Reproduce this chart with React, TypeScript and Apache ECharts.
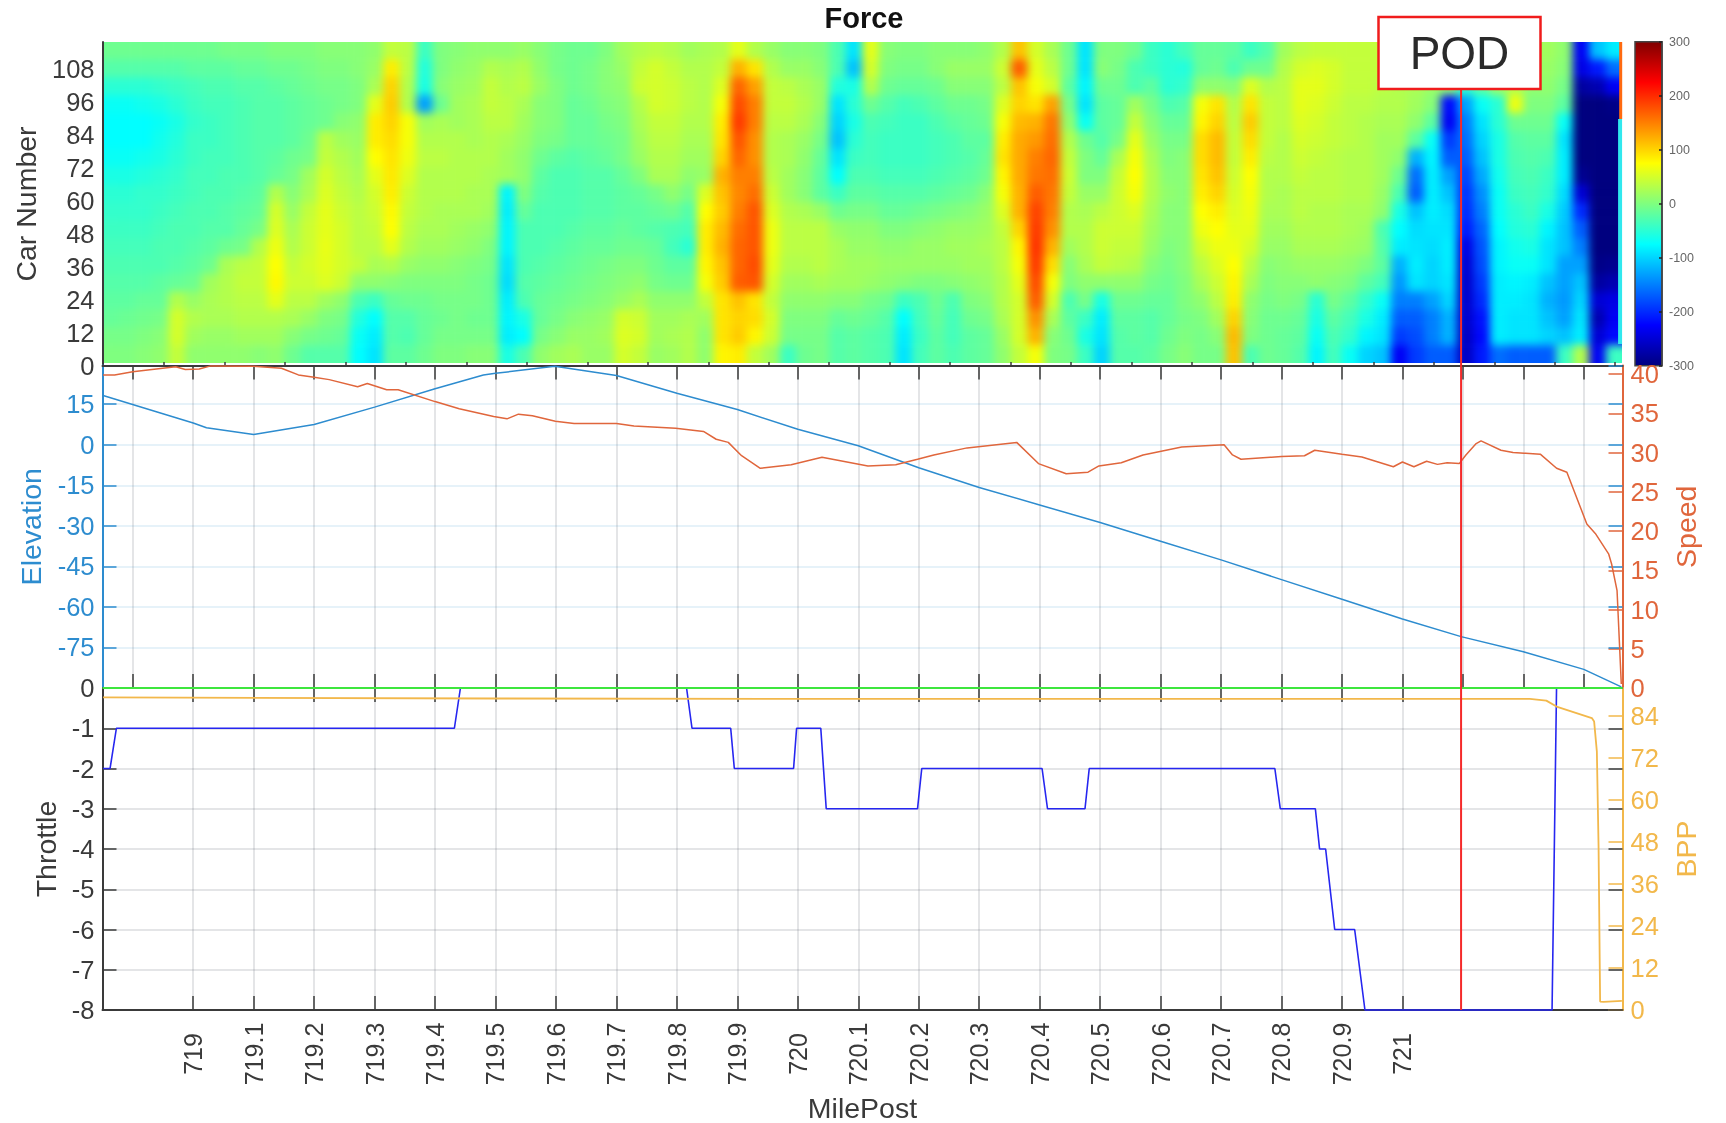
import React, { useEffect, useRef } from "react";
import * as echarts from "echarts";

const MILE_MIN = 718.85;
const MILE_MAX = 721.364;
const POD_MILE = 721.097;

const LABEL_MILES = [719,719.1,719.2,719.3,719.4,719.5,719.6,719.7,719.8,719.9,720,720.1,720.2,720.3,720.4,720.5,720.6,720.7,720.8,720.9,721];
const MIDDLE_MILES = [718.9,719,719.1,719.2,719.3,719.4,719.5,719.6,719.7,719.8,719.9,720,720.1,720.2,720.3,720.4,720.5,720.6,720.7,720.8,720.9,721,721.1,721.2,721.3];
const HEAT_MILES = [718.952,719.052,719.152,719.252,719.352,719.452,719.552,719.652,719.752,719.852,719.952,720.052,720.152,720.252,720.352,720.452,720.552,720.652,720.752,720.852,720.952,721.052,721.152,721.252,721.352];

const ELEVATION = [[718.851,18.2],[719,8],[719.022,6.3],[719.1,3.8],[719.2,7.5],[719.3,13.9],[719.4,20.7],[719.48,25.8],[719.5,26.4],[719.598,29],[719.7,25.6],[719.8,19],[719.9,13],[720,5.7],[720.1,-0.4],[720.2,-8.5],[720.3,-15.8],[720.4,-22.3],[720.5,-28.8],[720.6,-35.7],[720.7,-42.6],[720.8,-49.9],[720.9,-57.2],[721,-64.5],[721.097,-71],[721.2,-76.6],[721.3,-83.1],[721.362,-89.6]];

const SPEED = [[718.851,39.9],[718.87,39.9],[718.9,40.3],[718.971,40.95],[718.987,40.6],[719.01,40.65],[719.029,41.05],[719.1,41],[719.146,40.75],[719.174,39.9],[719.2,39.6],[719.225,39.3],[719.272,38.4],[719.288,38.8],[719.32,38],[719.339,38],[719.4,36.5],[719.44,35.6],[719.497,34.6],[719.519,34.3],[719.538,34.9],[719.561,34.7],[719.599,34],[719.63,33.7],[719.7,33.7],[719.729,33.4],[719.798,33.1],[719.844,32.7],[719.865,31.7],[719.885,31.3],[719.907,29.6],[719.938,28],[719.989,28.45],[720.04,29.4],[720.116,28.3],[720.162,28.45],[720.198,29.15],[720.225,29.7],[720.28,30.6],[720.362,31.3],[720.398,28.6],[720.444,27.3],[720.48,27.5],[720.498,28.3],[720.535,28.7],[720.571,29.7],[720.635,30.7],[720.705,31],[720.719,29.7],[720.733,29.15],[720.8,29.5],[720.838,29.6],[720.855,30.3],[720.9,29.8],[720.933,29.45],[720.985,28.2],[721,28.8],[721.019,28.2],[721.04,28.9],[721.058,28.5],[721.074,28.7],[721.094,28.6],[721.105,29.7],[721.122,31.15],[721.13,31.5],[721.163,30.3],[721.183,30],[721.228,29.8],[721.255,28],[721.272,27.5],[721.305,20.9],[721.319,19.7],[721.341,17.1],[721.346,15.8],[721.355,12.4],[721.362,0.5]];

const THROTTLE = [[718.851,-2],[718.8625,-2],[718.873,-1],[719.432,-1],[719.442,0],[719.816,0],[719.825,-1],[719.889,-1],[719.895,-2],[719.993,-2],[719.998,-1],[720.038,-1],[720.047,-3],[720.198,-3],[720.205,-2],[720.404,-2],[720.413,-3],[720.475,-3],[720.482,-2],[720.789,-2],[720.798,-3],[720.856,-3],[720.863,-4],[720.873,-4],[720.888,-6],[720.921,-6],[720.938,-8],[721.2475,-8],[721.2549,0]];

const ZERO_LINE = [[718.85,0],[721.364,0]];

const BPP = [[718.851,89.3],[719.5,89],[720,88.9],[721.2107,88.9],[721.238,88.4],[721.2549,86.7],[721.3133,83.4],[721.3171,82.4],[721.3216,73.8],[721.3244,46.7],[721.327,2.4],[721.3327,2.3],[721.363,2.6]];

const END_STREAK = [[721.361,118],[721.361,90]];
const EDGE_STRIP = [[721.36,90],[721.36,8]];

const FORCE_TICKS = [-300,-200,-100,0,100,200,300];
const JET = ["#00007f","#0000ff","#007fff","#00ffff","#7fff7f","#ffff00","#ff7f00","#ff0000","#7f0000"];

// Force readings: one list per mile column (left to right), each from the last car (top) to the first (bottom).
const HEAT_COLS = [
[-10,-25,-50,-70,-75,-75,-70,-60,-50,-45,-40,-35,-30,-25,-20,-15,-5,0],
[-10,-25,-50,-70,-75,-75,-70,-60,-50,-45,-40,-35,-30,-25,-20,-12,-5,0],
[-10,-25,-50,-65,-75,-75,-65,-55,-45,-45,-40,-35,-30,-25,-15,-8,0,5],
[-10,-25,-45,-60,-70,-65,-60,-50,-45,-40,-35,-30,-30,-20,-15,-5,5,10],
[-10,-25,-40,-50,-60,-55,-50,-45,-40,-35,-30,-30,-25,-15,30,50,50,40],
[-10,-20,-35,-40,-45,-40,-40,-35,-35,-30,-30,-25,-20,-10,15,30,20,10],
[-10,-20,-30,-35,-40,-40,-35,-35,-30,-30,-25,-20,-10,20,25,25,15,10],
[-5,-20,-30,-35,-35,-35,-35,-30,-30,-25,-25,-10,25,30,30,25,15,10],
[-5,-15,-25,-30,-30,-30,-30,-30,-25,-20,-15,-5,35,40,35,30,20,10],
[-5,-15,-25,-25,-25,-25,-25,-25,-20,-15,-5,30,40,40,35,30,20,5],
[0,-10,-20,-25,-25,-25,-20,-15,30,50,55,65,75,78,60,30,20,10],
[0,-10,-15,-20,-20,-20,-10,-5,5,15,25,30,40,45,35,25,5,-10],
[0,-5,-10,-15,-15,-10,-5,20,25,40,45,45,50,45,35,15,-5,-25],
[5,0,-5,-10,-10,35,40,50,55,60,60,62,60,55,20,0,-10,-25],
[5,0,-5,-5,5,20,30,35,40,45,50,50,50,45,10,-5,-15,-25],
[5,5,0,0,10,15,20,25,30,35,35,35,40,10,-30,-55,-70,-75],
[10,15,25,60,85,85,75,60,50,45,40,35,25,10,-40,-75,-85,-90],
[40,85,100,105,100,95,90,88,85,78,75,60,30,5,-15,-25,-25,-20],
[35,35,30,30,70,70,65,55,45,40,35,30,15,0,-10,-25,-30,-20],
[-40,-55,-60,-130,20,30,35,30,30,30,25,20,10,0,-10,-15,-15,-10],
[0,0,5,-10,25,30,35,30,30,25,25,20,10,0,-5,-10,-5,0],
[5,10,15,20,20,30,30,30,30,25,20,15,5,0,-5,-5,-5,0],
[10,15,20,25,25,25,30,30,25,25,15,10,0,-5,-5,-10,-5,5],
[10,30,40,40,35,30,30,25,25,20,10,0,-5,-10,-10,-10,-5,5],
[10,25,30,35,35,25,20,20,-80,-85,-80,-80,-90,-95,-85,-80,-85,-60],
[15,30,35,25,20,15,10,10,0,-15,-30,-30,-30,-25,-30,-60,-75,-30],
[5,10,15,5,5,0,-10,-20,-25,-30,-30,-30,-25,-20,-15,-15,-5,10],
[-5,-5,0,0,0,-5,-20,-30,-30,-30,-30,-25,-20,-15,-10,-5,5,20],
[-10,-10,-10,-15,-15,-15,-25,-30,-30,-30,-25,-20,-15,-10,-5,5,15,25],
[-10,-5,-5,-10,-15,-15,-20,-25,-25,-25,-20,-15,-10,-5,0,10,15,15],
[0,5,5,0,-5,-10,-15,-25,-25,-25,-20,-15,-5,0,5,15,20,15],
[20,15,10,5,0,-5,-5,-15,-20,-20,-15,-10,0,5,15,50,55,50],
[30,40,45,30,25,20,15,0,-15,-20,-20,-10,0,10,25,45,50,40],
[35,50,50,50,40,35,30,25,-5,-15,-25,-15,-10,-5,10,20,20,15],
[30,40,45,45,40,35,30,25,10,-10,-30,-35,-20,-10,10,20,25,20],
[20,30,35,35,30,25,20,10,-5,-25,-35,-50,-20,-10,10,25,30,30],
[25,30,30,30,30,25,20,15,55,75,85,85,80,70,40,20,10,10],
[30,40,55,70,85,90,100,120,110,105,115,120,110,105,90,90,90,80],
[60,120,165,180,190,175,165,150,145,150,160,165,165,170,110,100,105,85],
[30,90,130,150,150,140,140,150,160,175,175,175,180,175,90,95,80,40],
[15,30,40,40,35,30,30,35,45,55,65,65,60,50,40,50,45,20],
[5,15,35,40,35,25,25,20,20,30,35,35,30,20,10,0,-5,-40],
[5,15,25,30,25,15,10,5,5,25,35,35,30,20,10,0,-5,-10],
[0,5,15,15,5,-5,-15,-20,-20,15,35,35,35,25,10,0,-5,-5],
[-30,-30,-55,-90,-100,-110,-90,-75,-40,-10,15,25,25,20,5,-15,-25,-25],
[-90,-110,-60,-50,-60,-50,-40,-30,-20,-5,10,15,20,20,5,-10,-20,-20],
[60,50,30,-10,-30,-35,-35,-30,-20,-5,10,15,20,15,-5,-15,-25,-25],
[5,0,-10,-25,-35,-40,-40,-35,-25,-15,0,10,15,10,-10,-25,-30,-30],
[0,-5,-15,-35,-40,-40,-40,-35,-25,-15,0,10,15,5,-40,-75,-85,-90],
[0,-5,-15,-30,-40,-40,-40,-35,-25,-10,5,15,15,0,-30,-35,-40,-35],
[5,5,-10,-20,-30,-35,-35,-30,-20,-5,10,15,15,0,-10,-15,-20,-20],
[5,15,5,-10,-20,-30,-30,-25,-15,0,15,20,15,5,-30,-35,-35,-30],
[5,15,5,-10,-15,-20,-25,-20,-10,5,15,20,20,10,0,-10,-20,-20],
[10,15,5,-5,-10,-20,-15,-10,5,15,20,25,20,15,5,-5,-15,-15],
[30,45,35,55,70,85,90,80,70,55,40,35,35,30,30,25,15,10],
[110,170,110,100,115,125,125,125,120,120,100,80,70,60,50,50,50,40],
[50,60,70,90,120,135,150,155,170,185,190,195,190,180,170,140,120,70],
[25,35,50,130,155,160,165,160,155,150,140,120,95,70,50,25,5,0],
[-10,-10,-20,-5,10,30,40,45,40,30,30,20,5,0,-30,-20,-10,-5],
[-90,-90,-80,-90,-70,-10,0,0,15,25,30,30,25,10,-5,-40,-60,-40],
[0,5,-10,-20,-20,-25,-15,0,15,35,45,45,40,10,-60,-85,-90,-100],
[0,-5,-10,-15,-15,-5,25,40,45,45,45,40,35,10,-10,-20,-25,-25],
[-10,-30,-30,20,40,60,70,75,70,55,45,40,30,10,-10,-20,-20,-25],
[-40,-40,-20,-5,5,15,25,30,30,25,20,15,5,-5,-15,-25,-25,-20],
[-50,-50,-50,-30,-15,-5,0,5,10,5,5,0,-5,-10,-15,-15,-10,-5],
[-35,-55,-45,-25,-15,-5,5,5,5,5,5,5,5,0,0,-5,0,5],
[-15,-15,10,70,80,95,95,90,85,75,65,50,35,25,10,0,-5,-5],
[-15,-10,10,90,100,115,115,110,100,85,75,65,55,45,35,20,5,-5],
[-20,-30,5,30,35,40,40,45,50,55,60,65,75,80,85,100,115,110],
[-40,-10,55,90,105,95,85,75,70,65,60,50,35,25,10,5,0,-30],
[-25,-10,30,40,40,40,35,30,30,25,20,15,5,0,-5,-10,-10,-10],
[20,30,35,35,35,30,30,30,25,25,20,15,10,5,0,-10,-15,-15],
[35,50,60,60,55,50,45,40,35,35,30,25,15,5,-5,-15,-20,-25],
[40,55,60,55,50,45,40,35,35,30,30,25,15,10,-50,-60,-70,-80],
[40,50,50,45,40,40,35,35,35,30,30,25,15,5,-5,-20,-30,-35],
[40,40,40,35,35,35,30,30,30,25,25,20,10,0,-20,-35,-45,-70],
[40,40,40,35,30,30,30,30,30,25,20,15,0,-20,-45,-60,-80,-100],
[40,40,35,30,25,20,20,20,15,10,-30,-25,-20,-35,-70,-85,-90,-110],
[40,35,30,30,25,20,10,-10,-30,-60,-75,-85,-120,-135,-150,-170,-190,-230],
[30,30,25,20,10,-20,-120,-160,-170,-110,-95,-90,-85,-90,-150,-170,-180,-190],
[25,25,15,5,-20,-70,-80,-85,-85,-85,-90,-95,-100,-100,-130,-150,-150,-170],
[20,20,10,-220,-230,-190,-170,-130,-110,-95,-90,-85,-85,-90,-100,-120,-120,-170],
[5,0,-50,-130,-150,-160,-170,-185,-195,-200,-210,-240,-250,-255,-255,-255,-260,-260],
[10,5,-20,-70,-90,-100,-110,-125,-140,-150,-165,-175,-180,-190,-200,-215,-220,-210],
[20,25,15,-50,-50,-60,-60,-65,-70,-70,-75,-80,-80,-85,-85,-85,-85,-160],
[20,25,30,65,-10,-25,-30,-35,-40,-50,-55,-65,-70,-80,-85,-90,-90,-170],
[20,15,10,0,-10,-20,-25,-30,-35,-40,-50,-60,-70,-85,-90,-90,-90,-170],
[20,15,10,0,-10,-20,-30,-40,-45,-60,-80,-90,-90,-110,-120,-110,-100,-170],
[10,5,-5,-20,-70,-90,-85,-85,-95,-105,-110,-110,-130,-130,-135,-130,-110,-40],
[-230,-240,-280,-300,-300,-300,-300,-290,-250,-200,-170,-150,-130,-110,-100,-90,-85,30],
[-110,-210,-270,-300,-300,-300,-300,-300,-300,-300,-300,-300,-295,-280,-250,-270,-250,-230],
[-85,-160,-230,-295,-300,-300,-300,-300,-300,-300,-300,-300,-290,-270,-240,-230,-220,-40],
];

const INK = "#3a3a3a";
const BLUE = "#2d8ccf";
const ORANGE = "#e0663c";
const GOLD = "#f2b84b";
const FONT = "Liberation Sans";
const LEFT = 102.5;
const WIDTH = 1520;
const HEAT_W = 1519.5;
const HEAT_H = 321;
const CELL_W = HEAT_W / HEAT_COLS.length;
const CELL_H = HEAT_H / HEAT_COLS[0].length;

const valueX = (gridIndex: number, position: string, ticks: number[], extra: any = {}) => ({
  type: "value", gridIndex, position, min: MILE_MIN, max: MILE_MAX,
  axisLine: { show: false, onZero: false }, axisLabel: { show: false }, splitLine: { show: false },
  axisTick: { show: true, inside: true, length: 14, customValues: ticks, lineStyle: { color: INK, width: 1.5 } },
  ...extra,
});
const nameStyle = (color: string) => ({ color, fontSize: 28.5, fontFamily: FONT });

export default function App() {
  const mainRef = useRef<HTMLDivElement>(null);
  const heatRef = useRef<HTMLDivElement>(null);
  useEffect(() => {
    const heat = echarts.init(heatRef.current!, undefined, { renderer: "svg" });
    const nx = HEAT_COLS.length;
    const ny = HEAT_COLS[0].length;
    const cells: number[][] = [];
    // one clipped margin cell on each side repeats the edge reading, so the soft edge stays out of view
    for (let x = 0; x < nx + 2; x++) {
      for (let y = 0; y < ny + 2; y++) {
        const col = HEAT_COLS[Math.min(nx - 1, Math.max(0, x - 1))];
        cells.push([x, y, col[Math.min(ny - 1, Math.max(0, y - 1))]]);
      }
    }
    heat.setOption({
      animation: false,
      grid: { left: 0, right: 0, top: 0, bottom: 0, outerBoundsMode: "none" },
      xAxis: { type: "category", show: false, data: Array.from({ length: nx + 2 }, (_, i) => i) },
      yAxis: { type: "category", show: false, inverse: true, data: Array.from({ length: ny + 2 }, (_, i) => i) },
      visualMap: { show: false, min: -300, max: 300, dimension: 2, inRange: { color: JET } },
      series: [{ type: "heatmap", data: cells, progressive: 0, itemStyle: { borderWidth: 0 } }],
    });

    const main = echarts.init(mainRef.current!, undefined, { renderer: "svg" });
    const grayGrid = { show: true, lineStyle: { color: "rgba(90,100,110,0.22)", width: 1.5 } };
    main.setOption({
      animation: false,
      textStyle: { fontFamily: FONT },
      title: { text: "Force", left: 859, top: -2, textAlign: "center", textStyle: { fontFamily: FONT, fontSize: 29, fontWeight: "bold", color: "#111" } },
      grid: [
        { left: LEFT, top: 42, width: WIDTH, height: 324, outerBoundsMode: "none" },
        { left: LEFT, top: 365.5, width: WIDTH, height: 322.5, outerBoundsMode: "none" },
        { left: LEFT, top: 688, width: WIDTH, height: 322, outerBoundsMode: "none" },
        { left: 1635, top: 41.7, width: 27, height: 324, outerBoundsMode: "none" },
      ],
      xAxis: [
        valueX(0, "bottom", HEAT_MILES, { axisTick: { show: true, inside: true, length: 4, customValues: HEAT_MILES, lineStyle: { color: INK, width: 1.5 } } }),
        valueX(1, "top", MIDDLE_MILES, { axisLine: { show: true, onZero: false, lineStyle: { color: INK, width: 2 } }, splitLine: grayGrid }),
        valueX(1, "bottom", MIDDLE_MILES),
        valueX(2, "top", LABEL_MILES),
        valueX(2, "bottom", LABEL_MILES, {
          axisLine: { show: true, onZero: false, lineStyle: { color: INK, width: 2 } }, splitLine: grayGrid,
          axisLabel: { show: true, rotate: 90, align: "center", margin: 44, customValues: LABEL_MILES, color: INK, fontSize: 25, fontFamily: FONT, formatter: (v: number) => String(v) },
          name: "MilePost", nameLocation: "middle", nameGap: 83, nameTextStyle: nameStyle(INK),
        }),
        { type: "value", gridIndex: 3, min: 0, max: 1, show: false },
      ],
      yAxis: [
        { type: "value", gridIndex: 0, min: 0, max: 118, interval: 12, position: "left", splitLine: { show: false }, axisTick: { show: false },
          axisLine: { show: true, onZero: false, lineStyle: { color: INK, width: 2 } }, axisLabel: { showMaxLabel: false, color: INK, fontSize: 25.5, fontFamily: FONT, margin: 8 },
          name: "Car Number", nameLocation: "middle", nameRotate: 90, nameGap: 62, nameTextStyle: nameStyle(INK) },
        { type: "value", gridIndex: 1, min: -90, max: 29.3, interval: 15, position: "left",
          splitLine: { show: true, lineStyle: { color: "rgba(45,140,207,0.16)", width: 1.5 } },
          axisTick: { show: true, inside: true, length: 14, lineStyle: { color: BLUE, width: 1.5 } },
          axisLine: { show: true, onZero: false, lineStyle: { color: BLUE, width: 2 } },
          axisLabel: { showMaxLabel: false, showMinLabel: false, color: BLUE, fontSize: 25.5, fontFamily: FONT, margin: 8 },
          name: "Elevation", nameLocation: "middle", nameRotate: 90, nameGap: 57, nameTextStyle: nameStyle(BLUE) },
        { type: "value", gridIndex: 1, min: 0, max: 41.1, interval: 5, position: "right", splitLine: { show: false },
          axisTick: { show: true, inside: true, length: 14, lineStyle: { color: ORANGE, width: 1.5 } },
          axisLine: { show: true, onZero: false, lineStyle: { color: ORANGE, width: 2 } },
          axisLabel: { showMaxLabel: false, color: ORANGE, fontSize: 25.5, fontFamily: FONT, margin: 8, showMinLabel: true },
          name: "Speed", nameLocation: "middle", nameRotate: 90, nameGap: 49, nameTextStyle: nameStyle(ORANGE) },
        { type: "value", gridIndex: 1, min: -90, max: 29.3, interval: 15, position: "right", splitLine: { show: false }, axisLine: { show: false, onZero: false }, axisLabel: { show: false },
          axisTick: { show: true, inside: true, length: 14, lineStyle: { color: BLUE, width: 1.5 } } },
        { type: "value", gridIndex: 2, min: -8, max: 0, interval: 1, position: "left", splitLine: grayGrid,
          axisTick: { show: true, inside: true, length: 14, lineStyle: { color: INK, width: 1.5 } },
          axisLine: { show: true, onZero: false, lineStyle: { color: INK, width: 2 } },
          axisLabel: { color: INK, fontSize: 25.5, fontFamily: FONT, margin: 8 },
          name: "Throttle", nameLocation: "middle", nameRotate: 90, nameGap: 40.5, nameTextStyle: nameStyle(INK) },
        { type: "value", gridIndex: 2, min: 0, max: 92, interval: 12, position: "right", splitLine: { show: false },
          axisTick: { show: true, inside: true, length: 14, lineStyle: { color: GOLD, width: 1.5 } },
          axisLine: { show: true, onZero: false, lineStyle: { color: GOLD, width: 2 } },
          axisLabel: { showMaxLabel: false, color: GOLD, fontSize: 25.5, fontFamily: FONT, margin: 8 },
          name: "BPP", nameLocation: "middle", nameRotate: 90, nameGap: 49, nameTextStyle: nameStyle(GOLD) },
        { type: "value", gridIndex: 2, min: -8, max: 0, interval: 1, position: "right", splitLine: { show: false }, axisLine: { show: false, onZero: false }, axisLabel: { show: false },
          axisTick: { show: true, inside: true, length: 14, lineStyle: { color: INK, width: 1.5 } } },
        { type: "value", gridIndex: 3, min: FORCE_TICKS[0], max: FORCE_TICKS[6], interval: 100, position: "right", z: 10, splitLine: { show: false },
          axisTick: { show: true, inside: true, length: 3, lineStyle: { color: "#222", width: 1.5 } },
          axisLine: { show: true, onZero: false, lineStyle: { color: "#444", width: 1.5 } },
          axisLabel: { color: "#666", fontSize: 12.5, fontFamily: FONT, margin: 7 } },
      ],
      series: [
        { name: "Elevation", type: "line", xAxisIndex: 1, yAxisIndex: 1, data: ELEVATION, showSymbol: false, lineStyle: { color: BLUE, width: 1.5 }, clip: false },
        { name: "Speed", type: "line", xAxisIndex: 1, yAxisIndex: 2, data: SPEED, showSymbol: false, lineStyle: { color: ORANGE, width: 1.5 }, clip: false },
        { name: "Throttle", type: "line", xAxisIndex: 4, yAxisIndex: 4, data: THROTTLE, showSymbol: false, lineStyle: { color: "#2626f0", width: 1.6 }, clip: false },
        { name: "BPP", type: "line", xAxisIndex: 4, yAxisIndex: 5, data: BPP, showSymbol: false, lineStyle: { color: GOLD, width: 1.8 }, clip: false },
        { name: "Zero", type: "line", xAxisIndex: 4, yAxisIndex: 4, data: ZERO_LINE, showSymbol: false, z: 4, lineStyle: { color: "#3ee63e", width: 2 }, clip: false },
        { name: "EndStreak", type: "line", xAxisIndex: 0, yAxisIndex: 0, data: END_STREAK, showSymbol: false, lineStyle: { color: "#ff6a10", width: 3 }, clip: false },
        { name: "EdgeStrip", type: "line", xAxisIndex: 0, yAxisIndex: 0, data: EDGE_STRIP, showSymbol: false, lineStyle: { color: "#30e8ee", width: 4 }, clip: false },
        { name: "PODa", type: "line", xAxisIndex: 0, yAxisIndex: 0, data: [[POD_MILE, 101], [POD_MILE, 0]], showSymbol: false, z: 6, lineStyle: { color: "#f52a2a", width: 2 } },
        { name: "PODb", type: "line", xAxisIndex: 1, yAxisIndex: 1, data: [[POD_MILE, 29.3], [POD_MILE, -90]], showSymbol: false, z: 6, lineStyle: { color: "#f52a2a", width: 2 } },
        { name: "PODc", type: "line", xAxisIndex: 4, yAxisIndex: 4, data: [[POD_MILE, 0], [POD_MILE, -8]], showSymbol: false, z: 6, lineStyle: { color: "#f52a2a", width: 2 } },
      ],
      graphic: [
        { type: "rect", z: 0, shape: { x: 1635, y: 41.7, width: 27, height: 324 },
          style: { stroke: "#444", lineWidth: 1.5, fill: new echarts.graphic.LinearGradient(0, 1, 0, 0, JET.map((color, i) => ({ offset: i / (JET.length - 1), color }))) } },
        { type: "rect", z: 100, shape: { x: 1378.5, y: 17, width: 162, height: 72 }, style: { fill: "#fff", stroke: "#f01c1c", lineWidth: 2.5 } },
        { type: "text", z: 101, x: 1459.5, y: 53, style: { text: "POD", fill: "#2a2a2a", fontSize: 46, fontFamily: FONT, textAlign: "center", textVerticalAlign: "middle" } },
      ],
    });
    return () => { heat.dispose(); main.dispose(); };
  }, []);

  return (
    <div style={{ position: "absolute", left: 0, top: 0, width: 1726, height: 1123, background: "#fff", overflow: "hidden" }}>
      <div style={{ position: "absolute", left: LEFT, top: 42, width: HEAT_W, height: HEAT_H, overflow: "hidden" }}>
        <div ref={heatRef} style={{ position: "absolute", left: -CELL_W, top: -CELL_H, width: HEAT_W + 2 * CELL_W, height: HEAT_H + 2 * CELL_H, filter: "blur(4px)" }} />
      </div>
      <div ref={mainRef} style={{ position: "absolute", left: 0, top: 0, width: 1726, height: 1123, filter: "blur(0.5px)" }} />
    </div>
  );
}
